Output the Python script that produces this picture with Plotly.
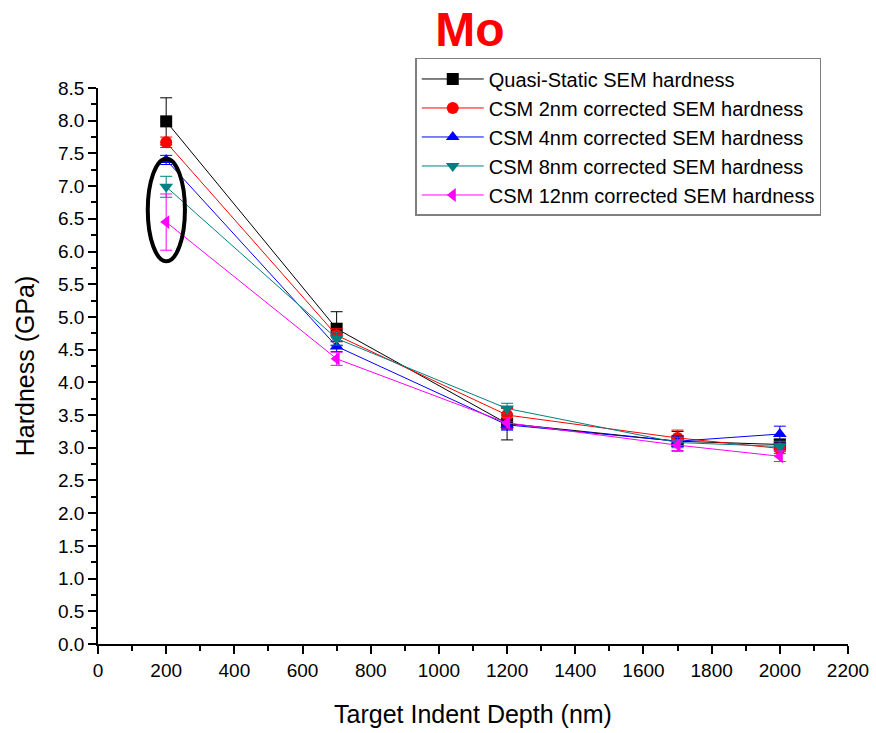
import plotly.graph_objects as go

depth = [200, 700, 1200, 1700, 2000]

names = [
    "Quasi-Static SEM hardness",
    "CSM 2nm corrected SEM hardness",
    "CSM 4nm corrected SEM hardness",
    "CSM 8nm corrected SEM hardness",
    "CSM 12nm corrected SEM hardness",
]
quasi_static = [7.99, 4.82, 3.37, 3.10, 3.05]
csm_2nm = [7.67, 4.72, 3.50, 3.15, 2.99]
csm_4nm = [7.40, 4.55, 3.35, 3.10, 3.21]
csm_8nm = [6.99, 4.67, 3.60, 3.08, 3.02]
csm_12nm = [6.45, 4.36, 3.38, 3.04, 2.87]

err_quasi = [0.36, 0.26, 0.25, 0.15, 0.08]
err_2nm = [0.08, 0.10, 0.10, 0.12, 0.08]
err_4nm = [0.07, 0.08, 0.08, 0.08, 0.12]
err_8nm = [0.16, 0.10, 0.08, 0.08, 0.08]
err_12nm = [0.43, 0.10, 0.08, 0.08, 0.08]

series = [quasi_static, csm_2nm, csm_4nm, csm_8nm, csm_12nm]
errors = [err_quasi, err_2nm, err_4nm, err_8nm, err_12nm]
colors = ["#000000", "#FF0000", "#0000FF", "#008080", "#FF00FF"]
symbols = ["square", "circle", "triangle-up", "triangle-down", "triangle-left"]

fig = go.Figure()
for name, y, e, c, s in zip(names, series, errors, colors, symbols):
    fig.add_trace(go.Scatter(
        x=depth, y=y, name=name, mode="lines+markers",
        line=dict(color=c, width=1),
        marker=dict(symbol=s, size=12, color=c),
        error_y=dict(type="data", array=e, visible=True, color=c, thickness=1, width=6),
        cliponaxis=False,
    ))

# highlight ellipse around the 200 nm CSM points
fig.add_shape(type="circle", xref="x", yref="y", x0=146, x1=255, y0=5.85, y1=7.42,
              line=dict(color="black", width=4))

fig.update_layout(
    width=876, height=733,
    margin=dict(l=98, r=28, t=88, b=89),
    paper_bgcolor="white", plot_bgcolor="white",
    font=dict(family="Arial, Liberation Sans, sans-serif", color="black"),
    title=dict(text="<b>Mo</b>", font=dict(size=48, color="#FF0000"),
               x=470 / 876, xanchor="center", y=1 - 29 / 733, yanchor="middle"),
    legend=dict(x=0.423, y=1.054, xanchor="left", yanchor="top",
                bordercolor="#808080", borderwidth=1.5, bgcolor="white",
                font=dict(size=20), tracegroupgap=0, itemwidth=62),
    showlegend=True,
)
fig.update_xaxes(
    range=[0, 2200], dtick=200, showgrid=False, zeroline=False, automargin=False,
    showline=True, linecolor="black", linewidth=1.5,
    ticks="outside", ticklen=8, tickwidth=1.5, tickcolor="black",
    minor=dict(dtick=100, ticks="outside", ticklen=5, tickwidth=1.5, tickcolor="black"),
    tickfont=dict(size=19),
    title=dict(text="Target Indent Depth (nm)", font=dict(size=25), standoff=26),
)
fig.update_yaxes(
    range=[0, 8.5], dtick=0.5, tickformat=".1f", showgrid=False, zeroline=False,
    automargin=False,
    showline=True, linecolor="black", linewidth=1.5,
    ticks="outside", ticklen=8, tickwidth=1.5, tickcolor="black",
    minor=dict(dtick=0.25, ticks="outside", ticklen=5, tickwidth=1.5, tickcolor="black"),
    tickfont=dict(size=19),
    title=dict(text="Hardness (GPa)", font=dict(size=25), standoff=16),
)

fig.write_html("out.html")
